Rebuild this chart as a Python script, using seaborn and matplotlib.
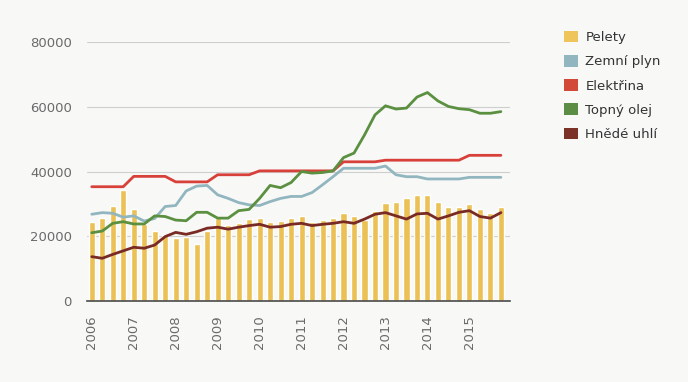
import numpy as np
import pandas as pd
import matplotlib
matplotlib.use('Agg')
import matplotlib.pyplot as plt
from matplotlib.patches import Patch
import seaborn as sns

# quarterly data 2006 Q1 .. 2015 Q4
years = list(range(2006, 2016))
quarters = [f'{y} Q{q}' for y in years for q in range(1, 5)]

pelety = [24500, 25600, 29500, 34300, 28300, 23700, 21700, 20400, 19400, 19900,
          17500, 21700, 25600, 23500, 24000, 25300, 25600, 24500, 24800, 25600,
          26300, 24300, 25000, 25600, 27100, 26300, 25000, 27900, 30200, 30700,
          31700, 32600, 32600, 30500, 29000, 29000, 29900, 28300, 27100, 29000]

zemni_plyn = [26800, 27300, 27100, 25900, 26300, 24700, 25500, 29200, 29500, 34000,
              35500, 35700, 32800, 31700, 30400, 29700, 29500, 30700, 31700, 32300,
              32300, 33500, 35900, 38400, 41000, 41000, 41000, 41000, 41700, 39000,
              38400, 38400, 37700, 37700, 37700, 37700, 38200, 38200, 38200, 38200]

elektrina = [35300, 35300, 35300, 35300, 38500, 38500, 38500, 38500, 36800, 36800,
             36800, 36800, 39000, 39000, 39000, 39000, 40200, 40200, 40200, 40200,
             40200, 40200, 40200, 40200, 43000, 43000, 43000, 43000, 43500, 43500,
             43500, 43500, 43500, 43500, 43500, 43500, 45000, 45000, 45000, 45000]

topny_olej = [21100, 21600, 24000, 24500, 23800, 23800, 26300, 26100, 25000, 24800,
              27400, 27400, 25600, 25600, 27900, 28300, 31700, 35700, 35000, 36600,
              40000, 39500, 39700, 40200, 44300, 45700, 51300, 57500, 60300, 59300,
              59600, 63000, 64400, 61800, 60100, 59400, 59100, 58000, 58000, 58500]

hnede_uhli = [13700, 13200, 14400, 15500, 16600, 16300, 17300, 19900, 21200, 20600,
              21400, 22500, 22800, 22200, 22800, 23300, 23700, 22800, 23000, 23700,
              24000, 23300, 23700, 24000, 24500, 24000, 25300, 26800, 27300, 26300,
              25300, 26900, 27100, 25300, 26300, 27400, 27900, 26100, 25600, 27300]

line_series = {
    'Zemní plyn': zemni_plyn,
    'Elektřina': elektrina,
    'Topný olej': topny_olej,
    'Hnědé uhlí': hnede_uhli,
}

BAR_COLOR = '#EBC155'
LINE_COLORS = {
    'Zemní plyn': '#92B6BF',
    'Elektřina': '#D8413A',
    'Topný olej': '#5B9040',
    'Hnědé uhlí': '#7A2A24',
}
LEGEND_COLORS = ['#EDC55A', '#92B6BF', '#D24A37', '#5B8E44', '#7B3328']

bars_df = pd.DataFrame({'pos': np.arange(len(quarters)), 'value': pelety})
lines_df = pd.concat(
    [pd.DataFrame({'pos': np.arange(len(quarters)), 'value': vals, 'series': name})
     for name, vals in line_series.items()],
    ignore_index=True,
)

sns.set_theme(style='white')
plt.rcParams['font.family'] = ['DejaVu Sans']

fig = plt.figure(figsize=(6.88, 3.82), dpi=100, facecolor='#f8f8f7')
ax = fig.add_axes([0.1265, 0.212, 0.6145, 0.678])
ax.set_facecolor('none')

ax.yaxis.grid(True, color='#cfcfcf', linewidth=0.8)
ax.set_axisbelow(True)

sns.barplot(data=bars_df, x='pos', y='value', color=BAR_COLOR, width=0.58,
            saturation=1, ax=ax, zorder=2)
sns.lineplot(data=lines_df, x='pos', y='value', hue='series', palette=LINE_COLORS,
             linewidth=2.0, legend=False, ax=ax, zorder=3)

ax.set_xlim(-0.45, 39.85)
ax.set_ylim(0, 80000)
ax.set_yticks([0, 20000, 40000, 60000, 80000])
ax.set_yticklabels(['0', '20000', '40000', '60000', '80000'])
ax.set_xticks(np.arange(0, 40, 4))
ax.set_xticklabels([str(y) for y in years], rotation=90)
ax.set_xlabel('')
ax.set_ylabel('')
ax.tick_params(axis='both', length=0, labelsize=9.5, labelcolor='#6a6a6a')
ax.tick_params(axis='y', pad=11)
ax.tick_params(axis='x', pad=10)

for side in ['top', 'right', 'left']:
    ax.spines[side].set_visible(False)
ax.spines['bottom'].set_color('#4a4a4a')
ax.spines['bottom'].set_linewidth(1.2)

labels = ['Pelety'] + list(line_series.keys())
handles = [Patch(facecolor=c, edgecolor='none') for c in LEGEND_COLORS]
fig.legend(handles, labels, loc='upper left', bbox_to_anchor=(0.803, 0.951),
           frameon=False, fontsize=9.5, handlelength=1.0, handleheight=1.0,
           handletextpad=0.6, labelspacing=0.82, labelcolor='#333333')

fig.savefig('out.png', dpi=100, facecolor=fig.get_facecolor())
